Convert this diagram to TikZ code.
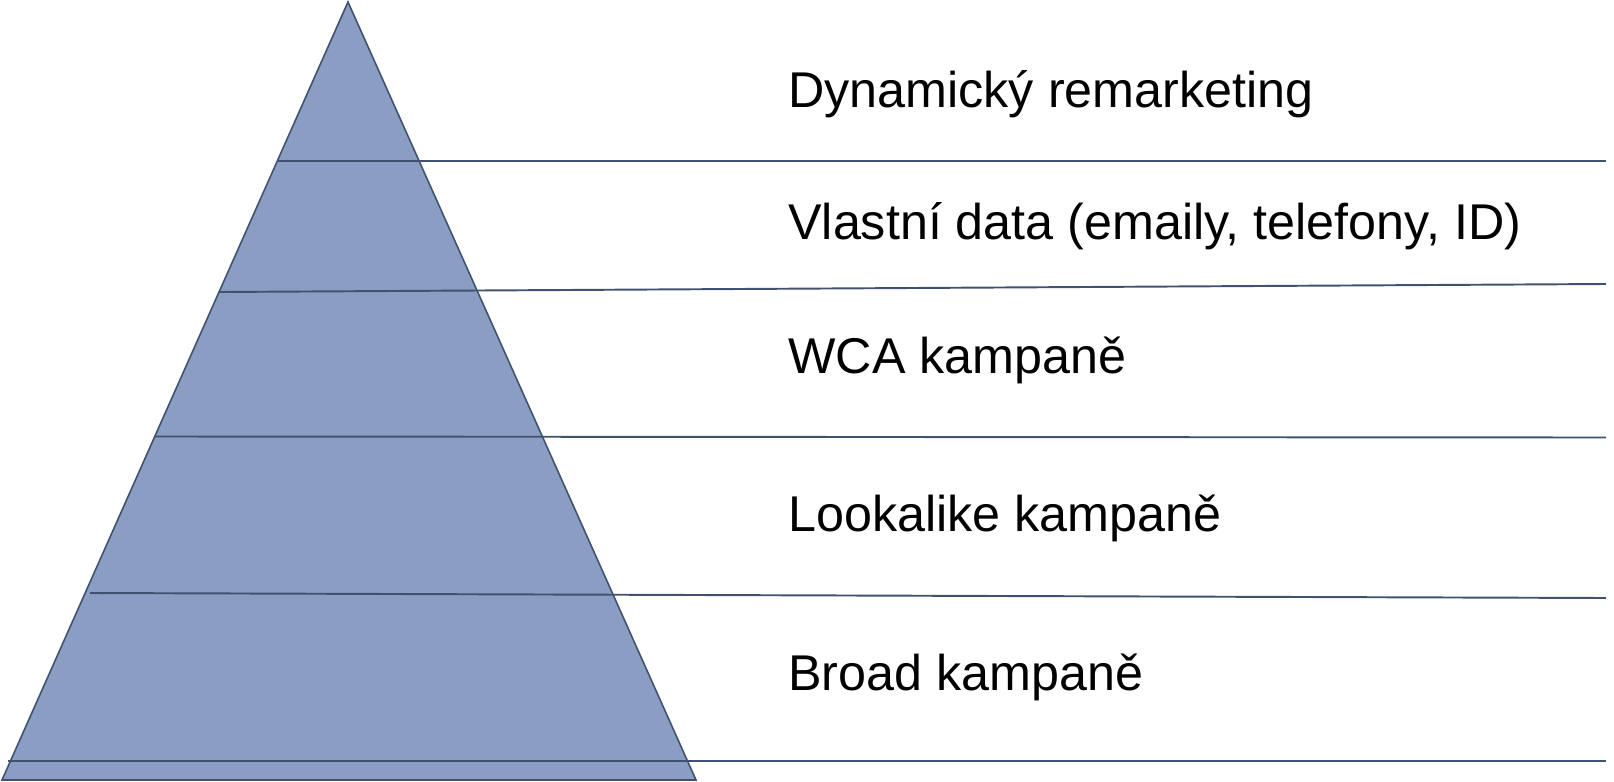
\documentclass[tikz,border=0pt]{standalone}
\usepackage{fontspec}
\setmainfont{Liberation Sans}
\definecolor{pyrfill}{RGB}{138,157,195}
\definecolor{pyrline}{RGB}{64,82,112}
\tikzset{
    tierline/.style={draw=pyrline, line width=1.1pt},
    tiertext/.style={anchor=base west, inner sep=0pt, text=black, font=\fontsize{28.6}{34}\selectfont}
}
\begin{document}
\begin{tikzpicture}[x=0.2mm,y=-0.2mm]

            \useasboundingbox (0,0) rectangle (1614,782);
            \def \xr{1606};
            \def \xt{788};

            % pyramid
            \coordinate (top) at (348,2);
            \coordinate (bl) at (2,780);
            \coordinate (br) at (696,780);
            \filldraw[fill=pyrfill, draw=pyrline, line width=0.9pt] (top) -- (br) -- (bl) -- cycle;

            % tier lines
            \foreach \xa/\ya/\yb [count=\i] in {278/160.6/160.6, 219/292/284, 154/436.5/437.5, 90/593/598, 8/760.7/760.7} {
                \coordinate (l\i) at (\xa,\ya);
                \coordinate (r\i) at (\xr,\yb);
                \draw[tierline] (l\i) -- (r\i);
            }

            % tier texts
            \node[tiertext] (dyn) at (\xt,108) {Dynamický remarketing};
            \node[tiertext] (own) at (\xt,239) {Vlastní data (emaily, telefony, ID)};
            \node[tiertext] (wca) at (\xt,373) {WCA kampaně};
            \node[tiertext] (look) at (\xt,531) {Lookalike kampaně};
            \node[tiertext] (broad) at (\xt,690) {Broad kampaně};

            \end{tikzpicture}
\end{document}
